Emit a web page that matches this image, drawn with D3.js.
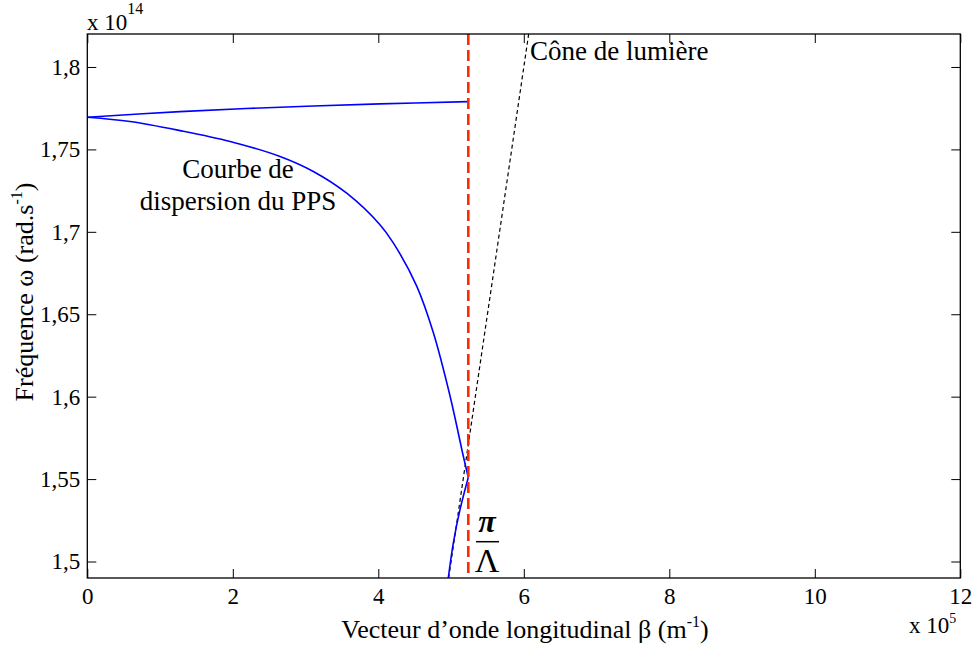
<!DOCTYPE html>
<html>
<head>
<meta charset="utf-8">
<script src="https://cdn.jsdelivr.net/npm/d3@7"></script>
<style>
  body { margin: 0; background: #fff; }
  svg { display: block; }
  svg text { font-family: "Liberation Serif", "DejaVu Serif", serif; fill: #000; }
</style>
</head>
<body>
<svg id="chart" width="975" height="650"></svg>
<script>
// ---- data (β in 1e5 m^-1, ω in 1e14 rad/s) ----
const xTicks = [0, 2, 4, 6, 8, 10, 12];
const yTicks = [1.5, 1.55, 1.6, 1.65, 1.7, 1.75, 1.8];
const yTickLabels = ["1,5", "1,55", "1,6", "1,65", "1,7", "1,75", "1,8"];

const lowerBeta  = [0, 0.587, 1.274, 1.962, 2.649, 3.107, 3.566, 4.023, 4.206, 4.528, 4.756, 4.986, 5.168, 5.237];
const lowerOmega = [1.7695, 1.7669, 1.7614, 1.7548, 1.7457, 1.7366, 1.7234, 1.7043, 1.6933, 1.6671, 1.6389, 1.6004, 1.5640, 1.5510];

const foldBeta  = [5.237, 5.123, 5.031, 4.962];
const foldOmega = [1.5510, 1.5315, 1.5112, 1.4900];

const upperBeta  = [0, 1.274, 2.649, 4.023, 5.237];
const upperOmega = [1.7695, 1.7729, 1.7756, 1.7776, 1.7790];

const coneBeta  = [4.967, 6.067];
const coneOmega = [1.49, 1.82];

const piOverLambda = 5.237;

const FONT = '"Liberation Serif", "DejaVu Serif", serif';

// ---- layout ----
const svg = d3.select("#chart");
const x = d3.scaleLinear().domain([0, 12]).range([87.3, 960.3]);
const y = d3.scaleLinear().domain([1.49, 1.82]).range([578, 34]);

svg.append("defs").append("clipPath").attr("id", "clip")
  .append("rect").attr("x", x(0)).attr("y", y(1.82))
  .attr("width", x(12) - x(0)).attr("height", y(1.49) - y(1.82));

const plot = svg.append("g").attr("clip-path", "url(#clip)");
const line = d3.line().x(d => x(d[0])).y(d => y(d[1]));
const zip = (a, b) => a.map((v, i) => [v, b[i]]);

// light cone
plot.append("path").datum(zip(coneBeta, coneOmega))
  .attr("d", line).attr("fill", "none").attr("stroke", "#000")
  .attr("stroke-width", 1.2).attr("stroke-dasharray", "4,3");

// blue curves
const curveLine = d3.line().x(d => x(d[0])).y(d => y(d[1])).curve(d3.curveCatmullRom.alpha(0.5));
[zip(lowerBeta, lowerOmega), zip(foldBeta, foldOmega), zip(upperBeta, upperOmega)].forEach(pts => {
  plot.append("path").datum(pts).attr("d", curveLine)
    .attr("fill", "none").attr("stroke", "#0000ff").attr("stroke-width", 1.6);
});

// red dashed π/Λ line
plot.append("line")
  .attr("x1", x(piOverLambda)).attr("x2", x(piOverLambda))
  .attr("y1", y(1.82)).attr("y2", y(1.49))
  .attr("stroke", "#ff2a00").attr("stroke-width", 2.6).attr("stroke-dasharray", "11,5");

// frame
svg.append("rect").attr("x", x(0)).attr("y", y(1.82))
  .attr("width", x(12) - x(0)).attr("height", y(1.49) - y(1.82))
  .attr("fill", "none").attr("stroke", "#000").attr("stroke-width", 1.3);

// axes with inward ticks on all sides
const tickLen = 9;
const xb = svg.append("g").attr("transform", `translate(0,${y(1.49)})`)
  .call(d3.axisBottom(x).tickValues(xTicks).tickSizeInner(-tickLen).tickSizeOuter(0).tickPadding(10));
const xt = svg.append("g").attr("transform", `translate(0,${y(1.82)})`)
  .call(d3.axisTop(x).tickValues(xTicks).tickSizeInner(-tickLen).tickSizeOuter(0).tickFormat(""));
const yl = svg.append("g").attr("transform", `translate(${x(0)},0)`)
  .call(d3.axisLeft(y).tickValues(yTicks).tickSizeInner(-tickLen).tickSizeOuter(0).tickPadding(7)
    .tickFormat((d, i) => yTickLabels[i]));
const yr = svg.append("g").attr("transform", `translate(${x(12)},0)`)
  .call(d3.axisRight(y).tickValues(yTicks).tickSizeInner(-tickLen).tickSizeOuter(0).tickFormat(""));

[xb, xt, yl, yr].forEach(g => {
  g.attr("font-family", FONT).attr("font-size", 23);
  g.select(".domain").remove();
  g.selectAll(".tick line").attr("stroke", "#000").attr("stroke-width", 1);
  g.selectAll("text").attr("font-family", FONT).attr("font-size", 23).attr("fill", "#000");
});
xb.selectAll("text").attr("dy", "0.71em");

// axis labels
svg.append("text").attr("x", 525).attr("y", 638).attr("text-anchor", "middle")
  .attr("font-family", FONT).attr("font-size", 26)
  .html('Vecteur d’onde longitudinal β (m<tspan font-size="16" dy="-11">-1</tspan><tspan dy="11">)</tspan>');

svg.append("text").attr("transform", "translate(33,292) rotate(-90)").attr("text-anchor", "middle")
  .attr("font-family", FONT).attr("font-size", 26)
  .html('Fréquence ω (rad.s<tspan font-size="16" dy="-11">-1</tspan><tspan dy="11">)</tspan>');

// scale multipliers
svg.append("text").attr("x", 87).attr("y", 30).attr("font-family", FONT).attr("font-size", 23)
  .html('x 10<tspan font-size="16" dy="-16">14</tspan>');
svg.append("text").attr("x", 909).attr("y", 633).attr("font-family", FONT).attr("font-size", 23)
  .html('x 10<tspan font-size="14" dy="-10">5</tspan>');

// annotations
svg.append("text").attr("x", 238).attr("y", 178).attr("text-anchor", "middle")
  .attr("font-family", FONT).attr("font-size", 27).text("Courbe de");
svg.append("text").attr("x", 238).attr("y", 210).attr("text-anchor", "middle")
  .attr("font-family", FONT).attr("font-size", 27).text("dispersion du PPS");
svg.append("text").attr("x", 530).attr("y", 60)
  .attr("font-family", FONT).attr("font-size", 27).text("Cône de lumière");

// π / Λ
svg.append("text").attr("x", 487).attr("y", 532).attr("text-anchor", "middle")
  .attr("font-family", FONT).attr("font-size", 32).attr("font-style", "italic").attr("font-weight", "bold").text("π");
svg.append("line").attr("x1", 476).attr("x2", 499).attr("y1", 541.7).attr("y2", 541.7)
  .attr("stroke", "#000").attr("stroke-width", 1.5);
svg.append("text").attr("x", 487).attr("y", 572).attr("text-anchor", "middle")
  .attr("font-family", FONT).attr("font-size", 34).text("Λ");
</script>
</body>
</html>
